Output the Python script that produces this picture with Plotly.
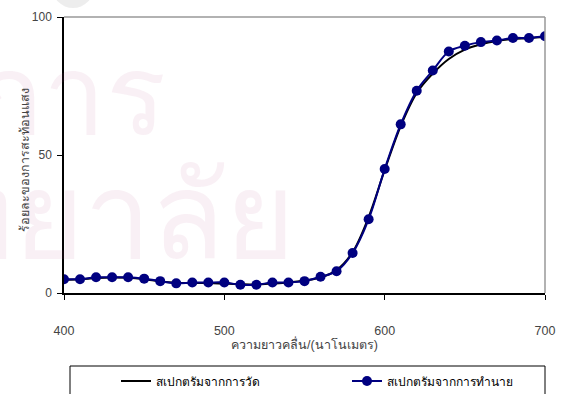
import plotly.graph_objects as go

# Wavelength grid (nm)
wavelength = [400, 410, 420, 430, 440, 450, 460, 470, 480, 490, 500,
              510, 520, 530, 540, 550, 560, 570, 580, 590, 600,
              610, 620, 630, 640, 650, 660, 670, 680, 690, 700]

# Measured reflectance spectrum (%)
measured = [4.8, 5.0, 5.4, 5.6, 5.5, 5.0, 4.2, 3.7, 3.6, 3.6, 3.4,
            3.2, 3.1, 3.4, 3.8, 4.5, 5.6, 8.3, 14.8, 27.5, 44.5,
            60.5, 72.5, 79.5, 84.8, 88.2, 90.1, 91.3, 92.0, 92.3, 92.8]

# Predicted reflectance spectrum (%)
predicted = [5.0, 5.0, 5.7, 5.7, 5.7, 5.2, 4.3, 3.5, 3.8, 3.8, 3.8,
             3.0, 3.0, 3.8, 3.8, 4.3, 5.9, 7.9, 14.5, 26.7, 44.9,
             61.1, 73.3, 80.6, 87.5, 89.6, 90.9, 91.5, 92.4, 92.4, 93.0]

x_ticks = [400, 500, 600, 700]
y_ticks = [0, 50, 100]

series_names = ["สเปกตรัมจากการวัด", "สเปกตรัมจากการทำนาย"]
x_title = "ความยาวคลื่น/(นาโนเมตร)"
y_title = "ร้อยละของการสะท้อนแสง"

FONT = "Arial, 'Liberation Sans', sans-serif"
W, H = 572, 394
ML, MR, MT, MB = 64, 27, 17, 101
PW, PH = W - ML - MR, H - MT - MB


def px_x(p):
    return (p - ML) / PW


def px_y(p):
    return (H - MB - p) / PH


fig = go.Figure()

fig.add_trace(go.Scatter(
    x=wavelength, y=measured, name=series_names[0],
    mode="lines", line=dict(color="#000000", width=2, shape="spline"),
))
fig.add_trace(go.Scatter(
    x=wavelength, y=predicted, name=series_names[1],
    mode="lines+markers",
    line=dict(color="#000080", width=2, shape="spline"),
    marker=dict(color="#000080", size=10),
))

shapes = [
    # grey top and right frame of the plot area
    dict(type="line", xref="paper", yref="paper", x0=0, x1=1, y0=1, y1=1,
         line=dict(color="#999999", width=1.5)),
    dict(type="line", xref="paper", yref="paper", x0=1, x1=1, y0=0, y1=1,
         line=dict(color="#999999", width=1.5)),
    # legend frame
    dict(type="rect", xref="paper", yref="paper",
         x0=px_x(70), x1=px_x(545), y0=px_y(366), y1=px_y(410),
         line=dict(color="#000000", width=1), layer="below"),
    # faint logo circle
    dict(type="circle", xref="paper", yref="paper",
         x0=px_x(52), x1=px_x(94), y0=px_y(-34), y1=px_y(8),
         fillcolor="rgba(0,0,0,0.07)", line=dict(width=0), layer="below"),
]

WM_COLOR = "rgba(190,90,140,0.09)"

annotations = [
    dict(text="บริการ", xref="paper", yref="paper", x=px_x(168), y=px_y(95),
         xanchor="right", yanchor="middle", showarrow=False,
         font=dict(size=112, color=WM_COLOR, family=FONT)),
    dict(text="มหาวิทยาลัย", xref="paper", yref="paper", x=px_x(297), y=px_y(216),
         xanchor="right", yanchor="middle", showarrow=False,
         font=dict(size=120, color=WM_COLOR, family=FONT)),
    dict(text=x_title, xref="paper", yref="paper", x=0.5, y=px_y(344),
         xanchor="center", yanchor="middle", showarrow=False,
         font=dict(size=12.5, color="#444444", family=FONT)),
    dict(text=y_title, xref="paper", yref="paper", x=px_x(25), y=px_y(160),
         xanchor="center", yanchor="middle", showarrow=False, textangle=-90,
         font=dict(size=12.5, color="#444444", family=FONT)),
]

fig.update_layout(
    width=W, height=H,
    margin=dict(l=ML, r=MR, t=MT, b=MB, pad=0, autoexpand=False),
    paper_bgcolor="white", plot_bgcolor="rgba(0,0,0,0)",
    font=dict(family=FONT, color="#444444"),
    showlegend=True,
    legend=dict(orientation="h", x=px_x(116), y=px_y(381),
                xanchor="left", yanchor="middle",
                bgcolor="rgba(0,0,0,0)", borderwidth=0,
                entrywidth=186, entrywidthmode="pixels",
                font=dict(size=12, color="#000000", family=FONT)),
    xaxis=dict(range=[400, 700], tickvals=x_ticks, showgrid=False, zeroline=False,
               showline=True, linecolor="#000000", linewidth=1.5,
               ticks="outside", ticklen=5, tickcolor="#000000", tickwidth=1,
               ticklabelstandoff=20,
               tickfont=dict(size=12.5, color="#444444")),
    yaxis=dict(range=[0, 100], tickvals=y_ticks, showgrid=False, zeroline=False,
               showline=True, linecolor="#000000", linewidth=1.5,
               ticks="outside", ticklen=5, tickcolor="#000000", tickwidth=1,
               ticklabelstandoff=3,
               tickfont=dict(size=12, color="#444444")),
    shapes=shapes,
    annotations=annotations,
)

fig.write_html("out.html")
